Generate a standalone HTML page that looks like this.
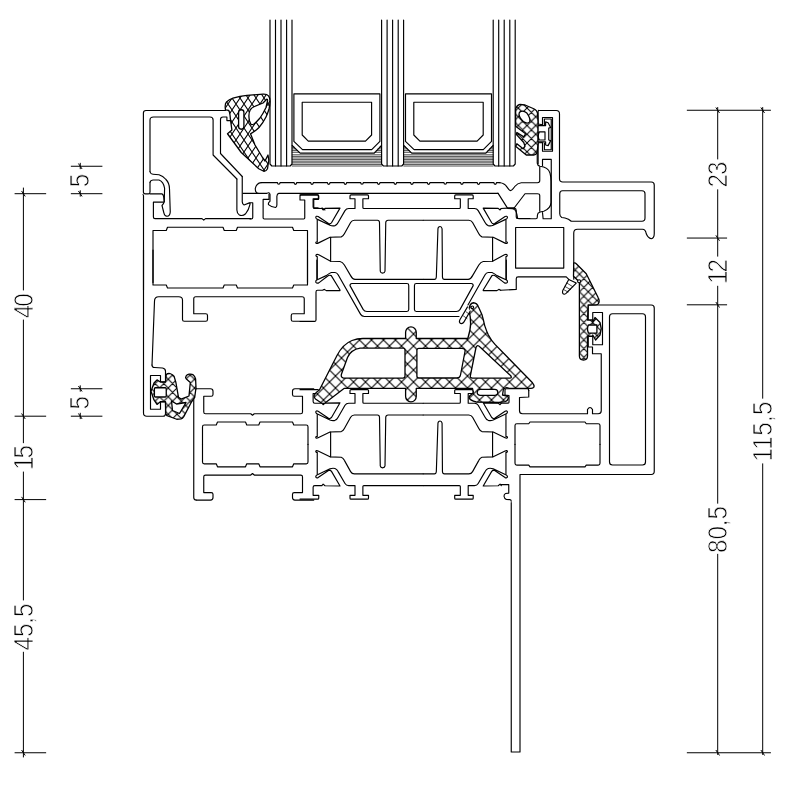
<!DOCTYPE html>
<html><head><meta charset="utf-8"><title>Profile section</title>
<style>
html,body{margin:0;padding:0;background:#fff}
svg{display:block}
path,line,polyline,rect,circle,ellipse{fill:none;stroke:#000;stroke-width:1.15;stroke-linecap:round;stroke-linejoin:round}
.h{stroke-width:.7}
.g{fill:url(#hx);fill-rule:evenodd;stroke-width:1.3}
.g2{fill:url(#hy);fill-rule:evenodd;stroke-width:1.3}
.g3{fill:url(#hz);fill-rule:evenodd;stroke-width:1.3}
.w{fill:#fff;fill-rule:evenodd}
.t{stroke-width:.8}
.d{stroke-width:1}
text{font-family:"Liberation Sans",sans-serif;fill:#000;stroke:#fff;stroke-width:.8px;filter:grayscale(1)}
</style></head><body>
<svg width="800" height="800" viewBox="0 0 800 800">
<defs>
<pattern id="hx" x="5.5" y="10" width="12" height="12" patternUnits="userSpaceOnUse">
<rect x="0" y="0" width="12" height="12" style="fill:#fff;stroke:none"/>
<path d="M0 0 L12 12 M0 12 L12 0" style="stroke-width:1.05"/>
</pattern>
<pattern id="hy" x="0" y="2" width="8" height="12" patternUnits="userSpaceOnUse">
<rect x="0" y="0" width="8" height="12" style="fill:#fff;stroke:none"/>
<path d="M0 0 L8 12 M0 12 L8 0" style="stroke-width:1.05"/>
</pattern>
<pattern id="hz" x="2" y="3" width="8.75" height="8.75" patternUnits="userSpaceOnUse">
<rect x="0" y="0" width="8.75" height="8.75" style="fill:#fff;stroke:none"/>
<path d="M0 0 L8.75 8.75 M0 8.75 L8.75 0" style="stroke-width:1.05"/>
</pattern>
</defs>
<rect x="0" y="0" width="800" height="800" style="fill:#fff;stroke:none"/>
<path d="M 243.12 193.38 L 266.88 193.38 Q 269.38 191.75 270 194.38 L 270 201.25 Q 267.88 202.75 268.5 204.62 Q 271.88 207.5 275.62 207.5 Q 276.88 206.88 276.88 205 L 276.88 196.25 Q 277.12 193.62 278.75 193.38 L 498.12 193.38"/>
<path d="M 242.25 176.5 L 242.25 201.88 Q 242.5 204.38 244 205 L 249.38 202.88 Q 250.38 202.75 250 204.38 Q 248.75 210 245.62 213.75 Q 242.5 216.5 239.38 215 Q 236.88 213.12 236.88 210 L 236.88 179"/>
<path d="M 250 202.75 L 252.75 202.75 L 252.75 217.5 Q 252.75 219 251.25 219 L 250 219"/>
<path d="M 269 194 L 269 199.38 L 263.12 199.38 L 263.12 218.12 Q 263.12 219 264.38 219 L 303.75 219 Q 304.75 219 304.75 218.12 L 304.75 200 L 300 200 L 300 195.88 Q 300 194.88 301.25 194.88 L 317.5 194.88 Q 318.38 194.88 318.38 195.88 L 318.38 199.38 L 313.75 199.38 L 313.75 207.5 L 317.5 207.88 Q 320 209 322.5 208.12 L 325 210"/>
<path d="M 258.12 193.38 Q 255.25 192.88 255.25 188.75 Q 256.25 183.12 261.25 182.62"/>
<path d="M 225.5 110.5 L 146 110.5 Q 143.4 110.5 143.4 113 L 143.4 192 Q 143.4 193.9 145.4 193.9 L 148.5 193.9 Q 150 193.9 150 192 L 150 182.25"/>
<path d="M 150 171.75 L 150 120 Q 150 117 153.5 117 L 210 117 Q 213.1 117 213.1 120 L 213.1 155 L 236.9 179"/>
<path d="M 242.25 176.5 L 220.5 153.5 L 220.5 119.5 Q 220.5 117 223 117 L 226.9 117 L 226.9 120.6 L 230 120.6"/>
<path d="M 150 171.75 Q 150.5 174 153 174.2 L 159 174.75 Q 163 176 165.75 179.25 Q 169.5 183 169.5 189 L 170.25 212 Q 170 216 167 216.3 Q 164.5 216 163.9 213 L 162 205.5 Q 163.5 204 164.25 201.75 L 164.6 188.25 Q 163.5 181.5 159 180 L 153 180 Q 150.5 180.2 150 182.25"/>
<path d="M 143 194.6 Q 143.5 195 143.5 196 L 143.5 290"/>
<path d="M 150 193.9 L 162 193.9 Q 163.5 194.5 163.7 197 L 164.25 201.75"/>
<path d="M 163.5 202.1 L 153.4 202.1 L 153.4 217 Q 153.4 218.6 155 218.6 L 202 218.6 L 203.75 220.1 L 205.5 218.6 L 251 218.6"/>
<path d="M 153 282.5 L 153 230.5 L 166.25 230.5 L 167.5 227.25 L 223 227.25 L 224.25 230.5 L 236.25 230.5 L 237.5 227.25 L 292.5 227.25 L 293.75 230.5 L 307.5 230.5 L 307.5 282.5"/>
<path d="M 153 250 L 153 285 L 166.25 285 L 167.5 288 L 223 288 L 224.25 285 L 236.25 285 L 237.5 288 L 292.5 288 L 293.75 285 L 307.5 285 L 307.5 250"/>
<path d="M 143.5 250 L 143.5 413 Q 143.5 416.25 146.75 416.25 L 163 416.25 Q 165.5 416.25 165.5 413.75 L 165.5 401.75"/>
<path d="M 152 365 L 154.5 301.25 Q 154.5 296.75 158.75 296.75 L 178.75 296.75 Q 182.5 296.75 182.5 300 L 182.5 319.5 Q 182.5 321.25 184.25 321.25 L 205.75 321.25 Q 207.5 321.25 207.5 319.5 L 207.5 315.5 Q 207.5 313.75 205.75 313.75 L 193.75 313.75 L 193.75 298.75 Q 193.75 296.75 195.75 296.75 L 302 296.75 Q 304.25 296.75 304.25 298.75 L 304.25 313.75 L 293 313.75 Q 291.25 313.75 291.25 315.5 L 291.25 319.5 Q 291.25 321.25 293 321.25 L 314.5 321.25"/>
<path d="M 152 365 Q 152 367.5 154.5 367.5 L 162.5 368 Q 165.5 368.5 165.5 371.25 L 165.5 382 L 160.5 382"/>
<path d="M 160.5 382 L 160.5 375.5 L 150.5 375.5 L 150.5 409.25 L 160.5 409.25 L 160.5 401.75 L 165.5 401.75"/>
<path d="M 196.25 388.75 Q 193.75 389.25 193.75 392.5 L 193.75 497.5 Q 193.75 500 196.25 500"/>
<path d="M 196.25 388.75 L 210.5 388.75 Q 213 388.75 213 391.25 L 213 394.5 Q 213 396.25 211.25 396.25 L 203.75 396.25 L 203.75 412 Q 203.75 413.75 205.5 413.75 L 250.75 413.75 L 252.5 415.25 L 254.25 413.75 L 300.75 413.75 Q 302.5 413.75 302.5 412 L 302.5 396.25 L 294.25 396.25 Q 292.5 396.25 292.5 394.5 L 292.5 391.25 Q 292.5 388.75 295 388.75 L 313.75 388.75"/>
<path d="M 202.5 444.5 L 202.5 426.75 Q 202.5 425 204.25 425 L 216.25 425 L 217.5 422 L 245.5 422 L 246.75 425 L 258.75 425 L 260 422 L 292.5 422 L 293.75 425 L 306.25 425 Q 308 425 308 426.75 L 308 444.5"/>
<path d="M 300 194.94 L 317.75 194.94 Q 318.75 194.94 318.75 195.88 L 318.75 198.75 L 313.12 198.75 L 313.12 206.88 Q 313.12 208.5 314.75 208.5 L 321.88 208.5 L 323.12 210 L 325 208.38 L 340 208.12 L 331.5 222.75 Q 330.38 224.38 328.5 223.5 L 318.12 216.5 Q 316 215.62 315.75 217.5 Q 316 219 317.5 219.38 L 330 225.25 Q 332.5 226.25 335 225.62 Q 336.88 225 338.12 222.5 L 345 210.62 Q 346.25 208.5 348.75 208.5 L 355 208.5 L 355 198.75 L 350 198.75 L 350 195.88 Q 350 194.94 351 194.94 L 367.5 194.94 Q 368.5 194.94 368.5 195.88 L 368.5 198.75 L 362.88 198.75 L 362.88 207.5 Q 362.88 208.5 363.88 208.5 L 423.12 208.5"/>
<path d="M 317.25 219.75 L 317.25 241.88 Q 316 241.5 315.75 242.75 Q 316.25 244 318.12 243.12 L 330 237.25 L 341.25 236.88 Q 343.12 236.25 344.38 233.75 L 350.62 222.5 Q 351.88 220.25 354.38 220.25 L 377.5 220.25 Q 379.38 220.25 379.5 222.5 L 380.25 271.25 Q 380.62 273.12 382.5 273.12 Q 384.75 273.12 385 271.25 L 385.75 222.5 Q 386 220.25 388.12 220.25 L 423.12 220.25"/>
<path d="M 330.62 237.25 L 330.62 261.25"/>
<path d="M 501.33 208.5 L 500.08 210 L 498.2 208.38 L 483.2 208.12 L 491.7 222.75 Q 492.83 224.38 494.7 223.5 L 505.08 216.5 Q 507.2 215.62 507.45 217.5 Q 507.2 219 505.7 219.38 L 493.2 225.25 Q 490.7 226.25 488.2 225.62 Q 486.33 225 485.08 222.5 L 478.2 210.62 Q 476.95 208.5 474.45 208.5 L 468.2 208.5 L 468.2 198.75 L 473.2 198.75 L 473.2 195.88 Q 473.2 194.94 472.2 194.94 L 455.7 194.94 Q 454.7 194.94 454.7 195.88 L 454.7 198.75 L 460.33 198.75 L 460.33 207.5 Q 460.33 208.5 459.33 208.5 L 423.2 208.5"/>
<path d="M 505.95 219.75 L 505.95 241.88 Q 507.2 241.5 507.45 242.75 Q 506.95 244 505.08 243.12 L 493.2 237.25 L 481.95 236.88 Q 480.08 236.25 478.83 233.75 L 472.58 222.5 Q 471.33 220.25 468.83 220.25 L 423.2 220.25"/>
<path d="M 492.58 237.25 L 492.58 261.25"/>
<path d="M 505.95 278.75 L 505.95 256.5 Q 507.45 256.5 507.2 255 Q 506.33 253.75 504.45 254.75 L 492.58 261.25 L 483.2 261.5 Q 480.7 261.88 478.83 265 L 472.58 275.62 Q 470.7 279.38 468.2 279.38 L 444.45 279.38 Q 442.58 279.38 442.45 277 L 442.08 228.75 Q 441.7 226.5 440.08 226.5 Q 438.2 226.5 437.95 228.75 L 436.33 277 Q 436.08 279.38 434.45 279.38 L 423.2 279.38"/>
<path d="M 506.33 260 L 506.33 279.75 Q 507.7 280.62 507.45 282.25 Q 506.33 283.75 504.45 282.88 L 495.45 276 Q 493.83 274.75 491.95 275.62 L 483.2 290 L 483.2 290.62 L 496.95 290.62 L 498.83 289.38 L 500.7 290.25"/>
<path d="M 505.95 279.75 L 496.95 275.62 Q 493.83 273.12 491.95 272.5 L 488.2 272.5 Q 486.33 272.5 485.08 274.75 L 467.95 305"/>
<path d="M 471.33 283.5 Q 473.2 283.5 473.2 285.62 L 460.08 309.38 Q 458.83 311.5 456.33 311.5 L 416.33 311.5 Q 414.45 311.5 414.45 309.62 L 414.45 285.38 Q 414.45 283.5 416.33 283.5 Z"/>
<path d="M 317.25 278.75 L 317.25 256.5 Q 315.75 256.5 316 255 Q 316.88 253.75 318.75 254.75 L 330.62 261.25 L 340 261.5 Q 342.5 261.88 344.38 265 L 350.62 275.62 Q 352.5 279.38 355 279.38 L 423.12 279.38"/>
<path d="M 316.88 260 L 316.88 279.75 Q 315.5 280.62 315.75 282.25 Q 316.88 283.75 318.75 282.88 L 327.75 276 Q 329.38 274.75 331.25 275.62 L 340 290 L 340 290.62 L 326.25 290.62 L 324.38 289.38 L 322.5 290.25 L 317.5 290.25 Q 316 290.25 316 291.88 L 316 320 Q 316 321.5 314.38 321.5 L 300 321.5"/>
<path d="M 317.25 279.75 L 326.25 275.62 Q 329.38 273.12 331.25 272.5 L 335 272.5 Q 336.88 272.5 338.12 274.75 L 360.62 314.38 Q 361.88 316.5 364.38 316.5 L 459 316.5"/>
<path d="M 351.88 283.5 Q 350 283.5 350 285.62 L 363.12 309.38 Q 364.38 311.5 366.88 311.5 L 406.88 311.5 Q 408.75 311.5 408.75 309.62 L 408.75 285.38 Q 408.75 283.5 406.88 283.5 Z"/>
<path d="M 497.5 193.38 L 498.12 193.38 L 507.5 208.12 L 514.38 208.12"/>
<path d="M 500.88 208.5 L 507.5 208.12 L 514.38 208.12 Q 516.25 208.5 516.25 210.62 L 516.25 216.88 Q 516.25 218.5 517.88 218.5 L 530 218.5"/>
<path d="M 500.62 290.25 L 516.25 289.38 L 516.25 278.75 Q 516.25 276.88 518.12 276.88 L 566.25 276.88 L 568.75 279.38"/>
<path d="M 261.25 182.6 L 277.45 182.6 A 1.3 1.7 0 0 0 280.05 182.6 L 294.1 182.6 A 1.3 1.7 0 0 0 296.7 182.6 L 310.75 182.6 A 1.3 1.7 0 0 0 313.35 182.6 L 327.4 182.6 A 1.3 1.7 0 0 0 330 182.6 L 344.05 182.6 A 1.3 1.7 0 0 0 346.65 182.6 L 360.7 182.6 A 1.3 1.7 0 0 0 363.3 182.6 L 377.35 182.6 A 1.3 1.7 0 0 0 379.95 182.6 L 394 182.6 A 1.3 1.7 0 0 0 396.6 182.6 L 410.65 182.6 A 1.3 1.7 0 0 0 413.25 182.6 L 427.3 182.6 A 1.3 1.7 0 0 0 429.9 182.6 L 443.95 182.6 A 1.3 1.7 0 0 0 446.55 182.6 L 460.6 182.6 A 1.3 1.7 0 0 0 463.2 182.6 L 477.25 182.6 A 1.3 1.7 0 0 0 479.85 182.6 L 493.9 182.6 A 1.3 1.7 0 0 0 496.5 182.6 L 500 182.6"/>
<path d="M 538.75 110.5 L 556.25 110.5 Q 559.5 110.5 559.5 113.75 L 559.5 178.75 Q 559.5 182 562.75 182 L 651.25 182 Q 654.25 182 654.25 185 L 654.25 233.75 Q 654.25 238 651.25 238.75 Q 648 238 646.25 233.75 Q 645.5 229.25 642.5 229.25 L 577.5 229.25 Q 573.75 229.25 573.75 233 L 573.75 279.25"/>
<path d="M 562.5 190.75 L 642 190.75 Q 645 190.75 645 193.75 L 645 218 Q 645 221.25 642 221.25 L 571.25 221.25 Q 568.75 218.75 565 218 L 561.75 217.5 Q 559.75 216.25 559.75 213.75 L 559.75 193.75 Q 559.75 190.75 562.5 190.75 Z"/>
<path d="M 538.75 110.38 Q 538.12 110.62 538.12 111.88 L 538.12 124 L 542.5 124.75 L 542.5 117.5 L 552.5 117.5 L 552.5 151.25 L 542.5 151.25 L 542.5 142.5 L 538.12 142.75 L 538.12 163.75"/>
<path d="M 544.38 125.62 L 544.38 119 L 551.25 119 L 551.25 149.75 L 544.38 149.75 L 544.38 143.12"/>
<path d="M 537.25 150 L 537.25 163.12 Q 537.5 165.62 540 166.25 Q 548.12 166.88 550 173.12 Q 551 176.88 551 181.25 L 551 202.5 Q 550.62 208.75 543.75 211.25 Q 539.38 211.88 538.12 213.12 Q 537.25 214.38 537.25 217.5 Q 537.25 218.75 536 218.75 L 518.75 218.75 Q 517.5 218.75 517.5 217.5 L 516.88 214.38 Q 516 209.38 512.5 208.75 L 508.12 208.5"/>
<path d="M 539.75 166.88 L 539.75 180.62 Q 539.75 182.75 537.5 182.75 L 521.25 182.75 Q 517.5 183.12 515 186.25 Q 511.88 190.62 510.62 190.62 Q 509.38 190.62 506.88 186.88 Q 504.38 183.12 500 182.75"/>
<path d="M 539.75 211.25 L 539.75 195.62 Q 539.75 193.75 537.5 193.75 L 525 193.75 L 513.75 208.5"/>
<path d="M 542.5 165.62 L 542.5 159.38 L 551.25 159.38 L 551.25 218.75 L 543.12 218.75 L 542.5 212.5"/>
<path d="M 515.62 227.5 L 563.75 227.5 L 563.75 268.12 L 515.62 268.12 Z"/>
<path d="M 588.25 320 L 588.25 305 L 651.25 305 Q 654.25 305 654.25 308 L 654.25 471.25 Q 654.25 474.5 651.25 474.5 L 520 474.5 L 520 752 L 511.25 752 L 511.25 502.5"/>
<path d="M 588.25 336.25 L 588.25 347 L 592.5 347 L 592.5 353.75 L 601.25 353.75 L 601.25 410.75 Q 601.25 413.75 598.25 413.75 L 592.5 413.75 L 592.5 409.5 Q 590 405.5 587.5 409.5 L 587.5 413.75 L 522.5 413.75 Q 519.5 413.75 519.5 410.75 L 519.5 397.5 L 528.75 397 L 528.75 390"/>
<path d="M 609.5 462 L 609.5 316.75 Q 609.5 313.75 612.5 313.75 L 642.5 313.75 Q 645.5 313.75 645.5 316.75 L 645.5 462 Q 645.5 465 642.5 465 L 612.5 465 Q 609.5 465 609.5 462 Z"/>
<path d="M 515 444.5 L 515 425.5 Q 515 423.75 516.75 423.75 L 528.75 423.75 L 530 422 L 585 422 L 586.25 423.75 L 598.25 423.75 Q 600 423.75 600 425.5 L 600 444.5"/>
<path d="M 592.75 320 L 592.75 312.5 L 602.5 312.5 L 602.5 344.75 L 592.75 344.75 L 592.75 336.25"/>
<path d="M 300 389.64 L 317.75 389.64 Q 318.75 389.64 318.75 390.57 L 318.75 393.45 L 313.12 393.45 L 313.12 401.57 Q 313.12 403.2 314.75 403.2 L 321.88 403.2 L 323.12 404.7 L 325 403.07 L 340 402.82 L 331.5 417.45 Q 330.38 419.07 328.5 418.2 L 318.12 411.2 Q 316 410.32 315.75 412.2 Q 316 413.7 317.5 414.07 L 330 419.95 Q 332.5 420.95 335 420.32 Q 336.88 419.7 338.12 417.2 L 345 405.32 Q 346.25 403.2 348.75 403.2 L 355 403.2 L 355 393.45 L 350 393.45 L 350 390.57 Q 350 389.64 351 389.64 L 367.5 389.64 Q 368.5 389.64 368.5 390.57 L 368.5 393.45 L 362.88 393.45 L 362.88 402.2 Q 362.88 403.2 363.88 403.2 L 423.12 403.2"/>
<path d="M 317.25 414.45 L 317.25 436.57 Q 316 436.2 315.75 437.45 Q 316.25 438.7 318.12 437.82 L 330 431.95 L 341.25 431.57 Q 343.12 430.95 344.38 428.45 L 350.62 417.2 Q 351.88 414.95 354.38 414.95 L 377.5 414.95 Q 379.38 414.95 379.5 417.2 L 380.25 465.95 Q 380.62 467.82 382.5 467.82 Q 384.75 467.82 385 465.95 L 385.75 417.2 Q 386 414.95 388.12 414.95 L 423.12 414.95"/>
<path d="M 330.62 431.95 L 330.62 456.7"/>
<path d="M 300 499.16 L 317.75 499.16 Q 318.75 499.16 318.75 498.22 L 318.75 495.35 L 313.12 495.35 L 313.12 487.22 Q 313.12 485.6 314.75 485.6 L 321.88 485.6 L 323.12 484.1 L 325 485.72 L 340 485.97 L 331.5 471.35 Q 330.38 469.72 328.5 470.6 L 318.12 477.6 Q 316 478.47 315.75 476.6 Q 316 475.1 317.5 474.72 L 330 468.85 Q 332.5 467.85 335 468.47 Q 336.88 469.1 338.12 471.6 L 345 483.47 Q 346.25 485.6 348.75 485.6 L 355 485.6 L 355 495.35 L 350 495.35 L 350 498.22 Q 350 499.16 351 499.16 L 367.5 499.16 Q 368.5 499.16 368.5 498.22 L 368.5 495.35 L 362.88 495.35 L 362.88 486.6 Q 362.88 485.6 363.88 485.6 L 423.12 485.6"/>
<path d="M 317.25 474.35 L 317.25 452.22 Q 316 452.6 315.75 451.35 Q 316.25 450.1 318.12 450.97 L 330 456.85 L 341.25 457.22 Q 343.12 457.85 344.38 460.35 L 350.62 471.6 Q 351.88 473.85 354.38 473.85 L 423.12 473.85"/>
<path d="M 501.33 403.2 L 500.08 404.7 L 498.2 403.07 L 483.2 402.82 L 491.7 417.45 Q 492.83 419.07 494.7 418.2 L 505.08 411.2 Q 507.2 410.32 507.45 412.2 Q 507.2 413.7 505.7 414.07 L 493.2 419.95 Q 490.7 420.95 488.2 420.32 Q 486.33 419.7 485.08 417.2 L 478.2 405.32 Q 476.95 403.2 474.45 403.2 L 468.2 403.2 L 468.2 393.45 L 473.2 393.45 L 473.2 390.57 Q 473.2 389.64 472.2 389.64 L 455.7 389.64 Q 454.7 389.64 454.7 390.57 L 454.7 393.45 L 460.33 393.45 L 460.33 402.2 Q 460.33 403.2 459.33 403.2 L 423.2 403.2"/>
<path d="M 505.95 414.45 L 505.95 436.57 Q 507.2 436.2 507.45 437.45 Q 506.95 438.7 505.08 437.82 L 493.2 431.95 L 481.95 431.57 Q 480.08 430.95 478.83 428.45 L 472.58 417.2 Q 471.33 414.95 468.83 414.95 L 423.2 414.95"/>
<path d="M 492.58 431.95 L 492.58 456.7"/>
<path d="M 501.33 485.6 L 500.08 484.1 L 498.2 485.72 L 483.2 485.97 L 491.7 471.35 Q 492.83 469.72 494.7 470.6 L 505.08 477.6 Q 507.2 478.47 507.45 476.6 Q 507.2 475.1 505.7 474.72 L 493.2 468.85 Q 490.7 467.85 488.2 468.47 Q 486.33 469.1 485.08 471.6 L 478.2 483.47 Q 476.95 485.6 474.45 485.6 L 468.2 485.6 L 468.2 495.35 L 473.2 495.35 L 473.2 498.22 Q 473.2 499.16 472.2 499.16 L 455.7 499.16 Q 454.7 499.16 454.7 498.22 L 454.7 495.35 L 460.33 495.35 L 460.33 486.6 Q 460.33 485.6 459.33 485.6 L 423.2 485.6"/>
<path d="M 505.95 474.35 L 505.95 452.22 Q 507.2 452.6 507.45 451.35 Q 506.95 450.1 505.08 450.97 L 493.2 456.85 L 481.95 457.22 Q 480.08 457.85 478.83 460.35 L 472.58 471.6 Q 471.33 473.85 468.83 473.85 L 444.45 473.85 Q 442.58 473.85 442.45 471.47 L 442.08 423.22 Q 441.7 420.97 440.08 420.97 Q 438.2 420.97 437.95 423.22 L 436.33 471.47 Q 436.08 473.85 434.45 473.85 L 423.2 473.85"/>
<path d="M 196.25 500.05 L 210.5 500.05 Q 213 500.05 213 497.55 L 213 494.3 Q 213 492.55 211.25 492.55 L 203.75 492.55 L 203.75 476.8 Q 203.75 475.05 205.5 475.05 L 250.75 475.05 L 252.5 473.55 L 254.25 475.05 L 300.75 475.05 Q 302.5 475.05 302.5 476.8 L 302.5 492.55 L 294.25 492.55 Q 292.5 492.55 292.5 494.3 L 292.5 497.55 Q 292.5 500.05 295 500.05 L 313.75 500.05"/>
<path d="M 202.5 444.3 L 202.5 462.05 Q 202.5 463.8 204.25 463.8 L 216.25 463.8 L 217.5 466.8 L 245.5 466.8 L 246.75 463.8 L 258.75 463.8 L 260 466.8 L 292.5 466.8 L 293.75 463.8 L 306.25 463.8 Q 308 463.8 308 462.05 L 308 444.3"/>
<path d="M 515 444.3 L 515 463.3 Q 515 465.05 516.75 465.05 L 528.75 465.05 L 530 466.8 L 585 466.8 L 586.25 465.05 L 598.25 465.05 Q 600 465.05 600 463.3 L 600 444.3"/>
<path d="M 500.88 403.25 L 508.12 403.12 Q 509 403.12 509 402.25 L 509 395.62 L 505 395 L 505 389.75 Q 505 388.75 506.25 388.75 L 527.5 388.75 Q 528.75 389 528.75 390.62"/>
<path d="M 500.88 484.62 L 508.75 484.62 L 508.75 493.12 L 505.62 493.5 Q 504 494 504 496.25 Q 504.38 498.75 506.25 499.38 L 510 499.62 Q 511.25 499.75 511.25 501.25"/>
<path d="M275.50 20 L275.50 166"/>
<path d="M281.00 20 L281.00 166"/>
<path d="M286.60 20 L286.60 166"/>
<path d="M270.00 20 L270.00 164 L271.80 166 L290.20 166 L292.00 164 L292.00 20"/>
<path d="M387.10 20 L387.10 166"/>
<path d="M392.60 20 L392.60 166"/>
<path d="M398.20 20 L398.20 166"/>
<path d="M381.60 20 L381.60 164 L383.40 166 L401.80 166 L403.60 164 L403.60 20"/>
<path d="M498.70 20 L498.70 166"/>
<path d="M504.20 20 L504.20 166"/>
<path d="M509.80 20 L509.80 166"/>
<path d="M493.20 20 L493.20 164 L495.00 166 L513.40 166 L515.20 164 L515.20 20"/>
<path d="M293.90 141.4 L293.90 93.9 L379.90 93.9 L379.90 141.4 L371.70 149.6 L302.50 149.6 Z"/>
<path d="M302.20 102.2 L371.60 102.2 L371.60 135 L365.50 141.1 L308.30 141.1 L302.20 135 Z"/>
<path d="M292.20 145.5 L300.10 153.1 L374.30 153.1 L381.50 145.5"/>
<path class="h" d="M292.20 154.80 L381.50 154.80 M292.20 156.40 L381.50 156.40 M292.20 158.00 L381.50 158.00 M292.20 159.60 L381.50 159.60 M292.20 161.20 L381.50 161.20 M292.20 162.80 L381.50 162.80 M292.20 164.40 L381.50 164.40 M292.20 166.00 L381.50 166.00 M292.20 147.20 L294.00 147.20 M379.70 147.20 L381.50 147.20 M292.20 148.90 L295.70 148.90 M378.00 148.90 L381.50 148.90 M292.20 150.60 L297.50 150.60 M376.20 150.60 L381.50 150.60 M292.20 152.30 L299.20 152.30 M374.50 152.30 L381.50 152.30 "/>
<path d="M405.50 141.4 L405.50 93.9 L491.50 93.9 L491.50 141.4 L483.30 149.6 L414.10 149.6 Z"/>
<path d="M413.80 102.2 L483.20 102.2 L483.20 135 L477.10 141.1 L419.90 141.1 L413.80 135 Z"/>
<path d="M403.80 145.5 L411.70 153.1 L485.90 153.1 L493.10 145.5"/>
<path class="h" d="M403.80 154.80 L493.10 154.80 M403.80 156.40 L493.10 156.40 M403.80 158.00 L493.10 158.00 M403.80 159.60 L493.10 159.60 M403.80 161.20 L493.10 161.20 M403.80 162.80 L493.10 162.80 M403.80 164.40 L493.10 164.40 M403.80 166.00 L493.10 166.00 M403.80 147.20 L405.60 147.20 M491.30 147.20 L493.10 147.20 M403.80 148.90 L407.30 148.90 M489.60 148.90 L493.10 148.90 M403.80 150.60 L409.10 150.60 M487.80 150.60 L493.10 150.60 M403.80 152.30 L410.80 152.30 M486.10 152.30 L493.10 152.30 "/>
<path class="g" d="M319.4 390 L337 355.5 Q343 344 352 340.5 Q357 338.5 363 338.5 L405.6 338.5 L405.6 332.2 A5.3 5.3 0 0 1 416.25 332.2 L416.25 338.5 L467.8 338.5 Q470.5 330 470.6 323.75 Q470.5 316 469.1 310.6 Q469 303.5 473.4 302.75 Q477 303 478.5 307 L481.9 314.4 Q483.5 320 484.7 325.6 Q486.5 331 488.4 335 Q491 340 495 344.4 L532.5 382.8 Q535 386 533.5 387.5 Q532.5 388.4 531 388.4 L509 388.4 Q506 386.5 503.4 389.4 L502.5 395 L507.2 396 Q509 397.5 508.1 398.75 Q507.5 401 505.3 401.6 L498.75 402.5 L476.25 402 Q470 400.5 469.1 397.8 Q469 396 470.6 395 Q473.5 393 473.4 392.2 L472.5 388.4 L416.25 388.4 L416.25 396.6 A5.3 5.3 0 0 1 405.6 396.6 L405.6 388.4 L344 388.4 L325 403 Q323 404 321 402.8 L315.5 399 Q313.5 397 314.4 395 Q316 392 319.4 390 Z M360 348.1 L403 348.1 Q405 348.1 405 350.1 L405 376.1 Q405 378.1 403 378.1 L343.5 378.1 Q340.5 377.5 341.5 374 L347.5 357.5 Q351 349.5 360 348.1 Z M418.9 348.3 L462 348.3 Q465.5 348.5 465 351.5 L460.5 375 Q460 378 457 378 L418.9 378 Q416.9 378 416.9 376 L416.9 350.3 Q416.9 348.3 418.9 348.3 Z M476 347.5 Q477.2 344 480 347 L510.5 375.5 Q512.5 378 509.5 378.2 L472.5 378.2 Q469.8 378 470.4 375.5 Z M480.2 389.4 L494.8 389.4 A3 3 0 0 1 494.8 395.4 L480.2 395.4 A3 3 0 0 1 480.2 389.4 Z"/>
<path class="g2" d="M225.5 109.8 Q224.5 104 226.5 102 Q229 99.5 233 98.2 Q240 96 247 95.3 L263 94.2 Q267 94 268.5 95.8 Q270.3 98 270 102 Q269.8 106 269 109 Q267.5 114 266 117 Q263 123 259 127.5 Q255 131.5 250.5 133.8 L255 145 L262.5 157.5 L265 161 L268 155 L268.8 160 L267.5 168.75 Q266 171.5 263.75 171.25 L258.75 168.75 L241.25 152.5 L227.5 133.75 L231.9 130 L230.6 120.6 L230 115 Q229.5 111 228.5 110.4 Z M241.25 109.75 A2.65 2.65 0 0 1 243.9 112.4 L243.9 126.6 A2.65 2.65 0 0 1 238.6 126.6 L238.6 112.4 A2.65 2.65 0 0 1 241.25 109.75 Z M250.25 109.75 Q252 107.5 254 106.75 L263 103 L266.75 99.25 Q267.8 99.5 267.5 101 L266 107.5 Q263.5 113 260 118 Q257 121.5 254 124 Q252 125 251 124.4 L249.5 121 Q248 114 250.25 109.75 Z"/>
<path class="g3" d="M 515.62 108.75 Q 516.88 105 520 104.38 L 525 105 L 533.75 108.75 Q 537.25 110.62 537.5 113.12 L 538.12 123.75 L 538.12 142.5 L 537.25 151.88 Q 536.25 155 533.75 155 L 526.25 155 L 515.62 146.25 L 516.88 143.75 L 523.12 148.75 L 525 146.25 L 523.75 142.5 L 516.25 134.38 L 516.88 132.5 L 523.75 136.88 L 525.62 133.75 L 515.62 126.25 Z M 520 111.88 Q 523.12 110 526.88 113.12 Q 530.62 118.12 529.75 121.88 Q 527.5 124.38 523.75 121.88 Q 519.38 118.12 519 114.38 Q 519 112.5 520 111.88 Z"/>
<path class="w" d="M 538.12 125.62 L 545.62 125.62 L 545.62 121.88 L 548.12 122.75 L 550.62 127.5 L 548.75 128.12 L 548.75 140 L 550.62 140.62 L 548.12 145.62 L 545.62 145 L 545.62 141.88 L 538.12 141.88 Z M 539.38 131.88 L 545 131.88 L 545 140 L 539.38 140 Q 537.25 135.88 539.38 131.88 Z"/>
<path class="g3" d="M573.75 263.1 Q575 262.5 576.5 264 L586.25 273.75 L598.1 297.5 Q600 301 598.5 303.5 Q597.8 304.8 596 304.8 L588.1 305 L587.5 320 L592.75 320 L592.75 322.5 L595 317.5 L600 322.5 L601.25 328.75 L600 335 L595.6 340 L592.75 335 L592.75 336.25 L587.5 336.25 L587.5 356 Q587.5 360 583.5 360 Q579.4 360 579.4 356 L579.4 282 L573.5 276.25 Z M588.5 325 L596.9 325 L596.9 333.1 L588.5 333.1 Q586.5 329 588.5 325 Z"/>
<path class="w" d="M568.75 279.4 L562.75 290.6 Q561.8 294 564.5 294.2 Q566 294 566.9 292.5 L576.25 283.1 Z"/>
<circle cx="579.1" cy="281.25" r="1.5" class="w"/>
<path class="g3" d="M165.5 382 L166.25 374.6 Q168 373 170.6 373.75 Q173 374.5 174.1 376.4 L175.9 382.5 L178.5 397.4 L181.1 399.1 L189 396 L190.3 382.5 L186.4 379 Q185 377.5 185.9 376.4 Q187 374.5 189 374.2 Q192 373.8 193.4 375 Q195 376.5 195.6 379 L196 387.75 L194.7 397.4 L191.6 401.75 L183.75 416.6 Q182.5 418.5 181.1 418.8 L176.75 419.25 L167.1 415.75 L165.8 414 L165.5 401.75 L160.3 401.75 L157 404.4 L154 400 L151 391.25 L154 383 L157 379.9 L160.3 382 Z M155.4 387.75 L165.25 387.75 Q166.25 387.75 166.25 388.75 L166.25 396 Q166.25 397 165.25 397 L155.4 397 Q154.4 397 154.4 396 L154.4 388.75 Q154.4 387.75 155.4 387.75 Z M171.5 401 L176.5 404 L186 402.5 L179.5 413.5 L172.5 410.5 Z"/>
<path class="d" d="M15.00 193.70 L45.75 193.70"/>
<path class="d" d="M21.80 191.30 L25.00 196.10"/>
<path class="d" d="M15.00 416.20 L45.75 416.20"/>
<path class="d" d="M21.80 413.80 L25.00 418.60"/>
<path class="d" d="M15.00 499.60 L45.75 499.60"/>
<path class="d" d="M21.80 497.20 L25.00 502.00"/>
<path class="d" d="M15.00 752.75 L45.75 752.75"/>
<path class="d" d="M21.80 750.35 L25.00 755.15"/>
<path class="d" d="M23.40 188.00 L23.40 290.00"/>
<path class="d" d="M23.40 320.00 L23.40 442.75"/>
<path class="d" d="M23.40 472.00 L23.40 600.00"/>
<path class="d" d="M23.40 652.20 L23.40 757.00"/>
<text transform="translate(24.10 305.80) rotate(-90) scale(0.9 1)" text-anchor="middle" x="0" y="9.2" font-size="27" textLength="27.8" lengthAdjust="spacing">40</text>
<text transform="translate(24.10 457.40) rotate(-90) scale(0.9 1)" text-anchor="middle" x="0" y="9.2" font-size="27" textLength="27.8" lengthAdjust="spacing">15</text>
<text transform="translate(24.10 627.00) rotate(-90) scale(0.9 1)" text-anchor="middle" x="0" y="9.2" font-size="27" textLength="52.2" lengthAdjust="spacing">45,5</text>
<path class="d" d="M71.25 166.25 L102.00 166.25"/>
<path class="d" d="M80.25 163.25 L80.25 168.75"/>
<path class="d" d="M78.65 163.85 L81.85 168.65"/>
<path class="d" d="M71.25 193.70 L102.00 193.70"/>
<path class="d" d="M80.25 190.70 L80.25 196.20"/>
<path class="d" d="M78.65 191.30 L81.85 196.10"/>
<path class="d" d="M71.25 388.75 L102.00 388.75"/>
<path class="d" d="M80.25 385.75 L80.25 391.25"/>
<path class="d" d="M78.65 386.35 L81.85 391.15"/>
<path class="d" d="M71.25 416.20 L102.00 416.20"/>
<path class="d" d="M80.25 413.20 L80.25 418.70"/>
<path class="d" d="M78.65 413.80 L81.85 418.60"/>
<text transform="translate(79.50 180.60) rotate(-90) scale(0.9 1)" text-anchor="middle" x="0" y="9.2" font-size="27" textLength="14.4" lengthAdjust="spacing">5</text>
<text transform="translate(79.50 402.80) rotate(-90) scale(0.9 1)" text-anchor="middle" x="0" y="9.2" font-size="27" textLength="14.4" lengthAdjust="spacing">5</text>
<path class="d" d="M687.25 110.25 L770.50 110.25"/>
<path class="d" d="M687.25 752.75 L770.50 752.75"/>
<path class="d" d="M687.25 238.05 L726.70 238.05"/>
<path class="d" d="M716.10 235.65 L719.30 240.45"/>
<path class="d" d="M687.25 304.80 L726.70 304.80"/>
<path class="d" d="M716.10 302.40 L719.30 307.20"/>
<path class="d" d="M716.10 107.85 L719.30 112.65"/>
<path class="d" d="M716.10 750.35 L719.30 755.15"/>
<path class="d" d="M761.10 107.85 L764.30 112.65"/>
<path class="d" d="M761.10 750.35 L764.30 755.15"/>
<path class="d" d="M717.70 107.50 L717.70 159.00"/>
<path class="d" d="M717.70 189.75 L717.70 256.20"/>
<path class="d" d="M717.70 286.20 L717.70 503.25"/>
<path class="d" d="M717.70 554.25 L717.70 754.50"/>
<path class="d" d="M762.70 107.50 L762.70 398.25"/>
<path class="d" d="M762.70 463.80 L762.70 754.50"/>
<text transform="translate(717.90 174.60) rotate(-90) scale(0.9 1)" text-anchor="middle" x="0" y="9.2" font-size="27" textLength="28.9" lengthAdjust="spacing">23</text>
<text transform="translate(717.90 271.50) rotate(-90) scale(0.9 1)" text-anchor="middle" x="0" y="9.2" font-size="27" textLength="27.8" lengthAdjust="spacing">12</text>
<text transform="translate(717.90 529.50) rotate(-90) scale(0.9 1)" text-anchor="middle" x="0" y="9.2" font-size="27" textLength="52.2" lengthAdjust="spacing">80,5</text>
<text transform="translate(762.90 431.60) rotate(-90) scale(0.9 1)" text-anchor="middle" x="0" y="9.2" font-size="27" textLength="66.7" lengthAdjust="spacing">115,5</text>
<path class="h" d="M565 286.5 L570.5 289.5 M566.8 283 L572.8 286.7 M563.5 289.5 L568 292"/>
<path class="w" d="M 467.5 306.88 L 459.75 320 Q 458.75 322.5 460.62 323.5 Q 462.75 324 464 321.88 L 470.25 311"/>
<path class="h" d="M463.5 316 L467 318.5 M466 311.8 L469.5 314.3"/>
<circle cx="472.3" cy="307.3" r="1.3" class="w"/>
</svg>
</body></html>
